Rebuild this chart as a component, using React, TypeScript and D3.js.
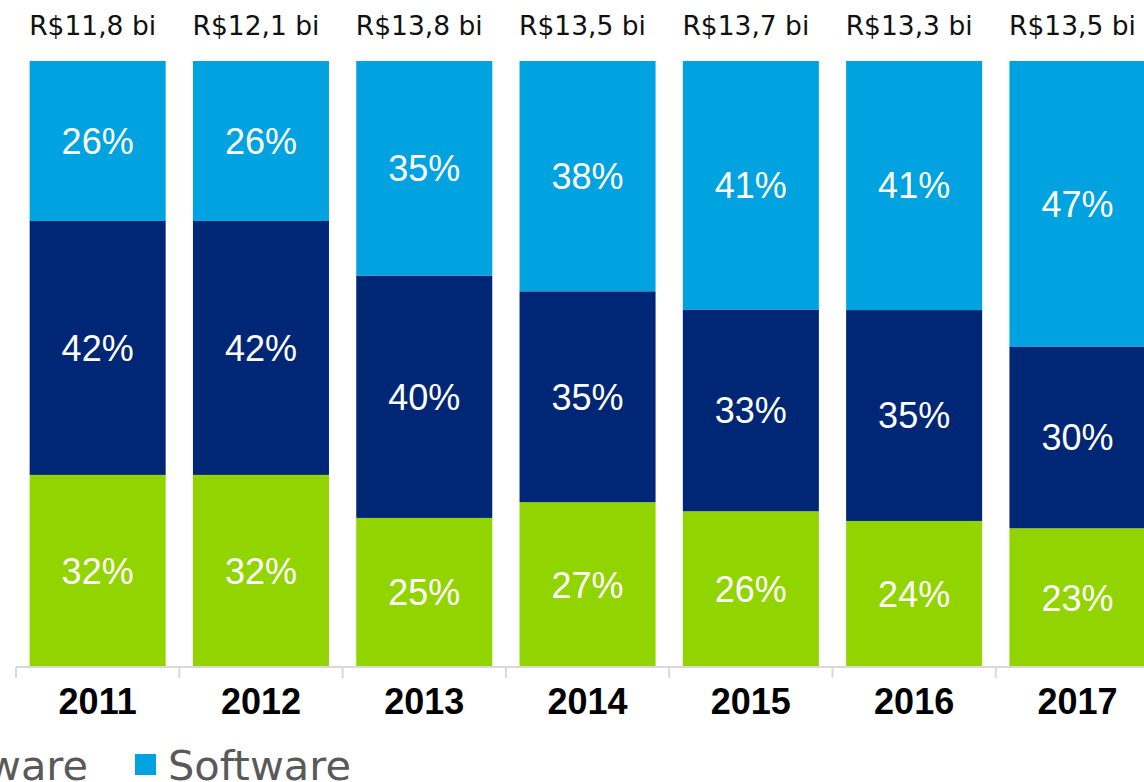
import React, { useEffect, useRef } from "react";
import * as d3 from "d3";

const years = ["2011", "2012", "2013", "2014", "2015", "2016", "2017"];
const totals = ["R$11,8 bi", "R$12,1 bi", "R$13,8 bi", "R$13,5 bi", "R$13,7 bi", "R$13,3 bi", "R$13,5 bi"];
// shares per year (fraction of 100%), bottom to top
const servicos = [0.317, 0.317, 0.246, 0.272, 0.257, 0.241, 0.229];
const hardware = [0.419, 0.419, 0.4, 0.348, 0.333, 0.348, 0.30];
const software = [0.264, 0.264, 0.354, 0.38, 0.41, 0.411, 0.471];
const seriesNames = ["Serviços", "Hardware", "Software"];
const colors = ["#92d400", "#002776", "#00a3e0"];

function App() {
  const ref = useRef<SVGSVGElement>(null);

  useEffect(() => {
    const width = 1144;
    const height = 782;
    const svg = d3.select(ref.current);
    svg.selectAll("*").remove();

    const left = 16;
    const step = 163.3;
    const x = d3
      .scaleBand()
      .domain(years)
      .range([left, left + step * years.length])
      .paddingInner(0.167)
      .paddingOuter(0.0835);
    const y = d3.scaleLinear().domain([0, 1]).range([667, 61]);

    const rows = years.map((yr, i) => ({
      year: yr,
      s0: servicos[i],
      s1: hardware[i],
      s2: software[i],
    }));
    const stack = d3.stack<any>().keys(["s0", "s1", "s2"]);
    const layers = stack(rows);

    const g = svg.append("g");
    layers.forEach((layer, k) => {
      g.selectAll(null)
        .data(layer)
        .enter()
        .append("rect")
        .attr("x", (d: any) => x(d.data.year)!)
        .attr("width", x.bandwidth())
        .attr("y", (d: any) => y(d[1]))
        .attr("height", (d: any) => y(d[0]) - y(d[1]))
        .attr("fill", colors[k]);

      g.selectAll(null)
        .data(layer)
        .enter()
        .append("text")
        .attr("x", (d: any) => x(d.data.year)! + x.bandwidth() / 2)
        .attr("y", (d: any) => (y(d[0]) + y(d[1])) / 2)
        .attr("dy", "0.36em")
        .attr("text-anchor", "middle")
        .attr("fill", "#fff")
        .style("font-family", "'Liberation Sans', Arial, sans-serif")
        .style("font-size", "36px")
        .text((d: any) => `${Math.round((d[1] - d[0]) * 100)}%`);
    });

    // totals above bars
    g.selectAll(null)
      .data(years)
      .enter()
      .append("text")
      .attr("x", (d) => x(d)! + x.bandwidth() / 2 - 5)
      .attr("y", 35)
      .attr("text-anchor", "middle")
      .attr("fill", "#111")
      .style("font-family", "'DejaVu Sans', Verdana, sans-serif")
      .style("font-size", "26.5px")
      .text((d, i) => totals[i]);

    // axis line and ticks
    g.append("line")
      .attr("x1", left)
      .attr("x2", width)
      .attr("y1", 667)
      .attr("y2", 667)
      .attr("stroke", "#d9d9d9")
      .attr("stroke-width", 2);
    g.selectAll(null)
      .data(d3.range(years.length + 1))
      .enter()
      .append("line")
      .attr("x1", (i) => left + i * x.step())
      .attr("x2", (i) => left + i * x.step())
      .attr("y1", 667)
      .attr("y2", 678)
      .attr("stroke", "#d9d9d9")
      .attr("stroke-width", 2);

    g.selectAll(null)
      .data(years)
      .enter()
      .append("text")
      .attr("x", (d) => x(d)! + x.bandwidth() / 2)
      .attr("y", 714)
      .attr("text-anchor", "middle")
      .attr("fill", "#000")
      .style("font-family", "'Liberation Sans', Arial, sans-serif")
      .style("font-size", "36px")
      .style("font-weight", "bold")
      .text((d) => d);

    // legend (partly cut off on the left, as in the source)
    const legend = [
      { name: seriesNames[0], color: colors[0], sx: -500, tx: -467, anchor: "start" },
      { name: seriesNames[1], color: colors[1], sx: -145, tx: 88, anchor: "end" },
      { name: seriesNames[2], color: colors[2], sx: 135, tx: 168, anchor: "start" },
    ];
    const lg = g.append("g");
    legend.forEach((l) => {
      lg.append("rect")
        .attr("x", l.sx)
        .attr("y", 754)
        .attr("width", 21)
        .attr("height", 21)
        .attr("fill", l.color);
      lg.append("text")
        .attr("x", l.tx)
        .attr("y", 780)
        .attr("text-anchor", l.anchor)
        .attr("fill", "#595959")
        .style("font-family", "'DejaVu Sans', Verdana, sans-serif")
        .style("font-size", "41.5px")
        .text(l.name);
    });

    svg.attr("width", width).attr("height", height);
  }, []);

  return (
    <svg
      ref={ref}
      width={1144}
      height={782}
      style={{ position: "absolute", left: 0, top: 0, background: "#fff" }}
    ></svg>
  );
}

export default App;
